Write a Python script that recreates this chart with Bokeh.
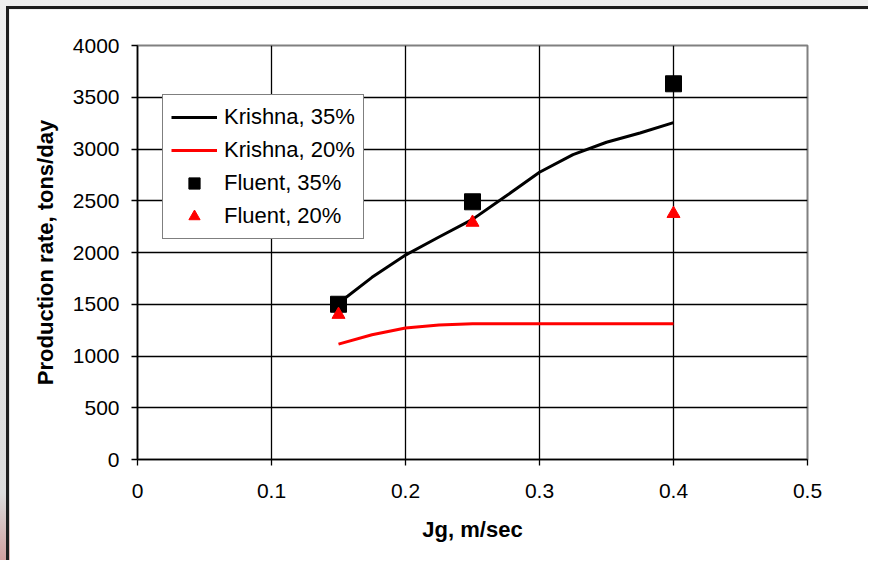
from bokeh.plotting import figure
from bokeh.models import FixedTicker, Range1d, Legend, LegendItem, ColumnDataSource
from bokeh.layouts import column
from bokeh.embed import file_html
from bokeh.resources import INLINE

# ---- data ----
krishna_x = [0.15, 0.175, 0.2, 0.225, 0.25, 0.275, 0.3, 0.325, 0.35, 0.375, 0.4]
krishna35_y = [1510, 1760, 1975, 2150, 2320, 2545, 2775, 2945, 3065, 3155, 3255]
krishna20_y = [1115, 1205, 1270, 1300, 1312, 1312, 1312, 1312, 1312, 1312, 1312]
fluent_x = [0.15, 0.25, 0.4]
fluent35_y = [1500, 2490, 3630]
fluent20_y = [1400, 2290, 2375]
x_ticks = [0, 0.1, 0.2, 0.3, 0.4, 0.5]
x_tick_labels = ["0", "0.1", "0.2", "0.3", "0.4", "0.5"]
y_ticks = [0, 500, 1000, 1500, 2000, 2500, 3000, 3500, 4000]
series_names = ["Krishna, 35%", "Krishna, 20%", "Fluent, 35%", "Fluent, 20%"]

FONT = "Liberation Sans"

p = figure(width=862, height=554, output_backend="svg", toolbar_location=None,
           x_range=Range1d(0, 0.5), y_range=Range1d(0, 4000),
           min_border_left=128, min_border_right=64, min_border_top=36, min_border_bottom=104)
p.border_fill_color = "white"
p.background_fill_color = "white"
p.outline_line_color = "#808080"
p.outline_line_width = 2

# grid: interior lines only, black
p.xgrid.ticker = FixedTicker(ticks=x_ticks[1:-1])
p.ygrid.ticker = FixedTicker(ticks=y_ticks[1:-1])
for g in (p.xgrid, p.ygrid):
    g.grid_line_color = "black"
    g.grid_line_width = 1.3

for ax in (p.xaxis, p.yaxis):
    ax.axis_line_color = "black"
    ax.axis_line_width = 1.5
    ax.major_tick_line_color = "black"
    ax.major_tick_line_width = 1.3
    ax.major_tick_out = 6
    ax.major_tick_in = 0
    ax.minor_tick_line_color = None
    ax.major_label_text_font = FONT
    ax.major_label_text_font_size = "21px"
    ax.major_label_text_color = "black"
    ax.axis_label_text_font = FONT
    ax.axis_label_text_font_style = "bold"
    ax.axis_label_text_font_size = "22px"
    ax.axis_label_text_color = "black"

p.xaxis.ticker = FixedTicker(ticks=x_ticks)
p.xaxis.major_label_overrides = dict(zip(x_ticks, x_tick_labels))
p.yaxis.ticker = FixedTicker(ticks=y_ticks)
p.xaxis.axis_label = "Jg, m/sec"
p.yaxis.axis_label = "Production rate, tons/day"
p.xaxis.major_label_standoff = 18
p.xaxis.axis_label_standoff = 16
p.yaxis.major_label_standoff = 12
p.yaxis.axis_label_standoff = 12

src_k = ColumnDataSource(dict(x=krishna_x, y35=krishna35_y, y20=krishna20_y))
src_f = ColumnDataSource(dict(x=fluent_x, y35=fluent35_y, y20=fluent20_y))

r1 = p.line("x", "y35", source=src_k, line_color="black", line_width=3)
r2 = p.line("x", "y20", source=src_k, line_color="red", line_width=3)
r3 = p.scatter("x", "y35", source=src_f, marker="square", size=16,
               fill_color="black", line_color="black")
r4 = p.scatter("x", "y20", source=src_f, marker="triangle", size=13,
               fill_color="red", line_color="red")

legend = Legend(items=[LegendItem(label=n, renderers=[r]) for n, r in zip(series_names, [r1, r2, r3, r4])],
                location=(25, 220))
legend.label_text_font = FONT
legend.label_text_font_size = "22px"
legend.label_text_color = "black"
legend.glyph_width = 46
legend.glyph_height = 28
legend.label_height = 28
legend.label_standoff = 7
legend.spacing = 5
legend.padding = 8
legend.margin = 0
legend.border_line_color = "black"
legend.border_line_width = 1.5
legend.background_fill_color = "white"
legend.background_fill_alpha = 1
p.add_layout(legend, "center")

p.styles = {"border-left": "3px solid #1e1e1e", "border-top": "3px solid #1e1e1e"}
root = column(p, styles={
    "background": "linear-gradient(to bottom, #efefef 0%, #dcdcdc 88%, #d2a0a0 100%)",
    "padding-left": "6px", "padding-top": "6px"})

open("out.html", "w").write(file_html(root, INLINE))
